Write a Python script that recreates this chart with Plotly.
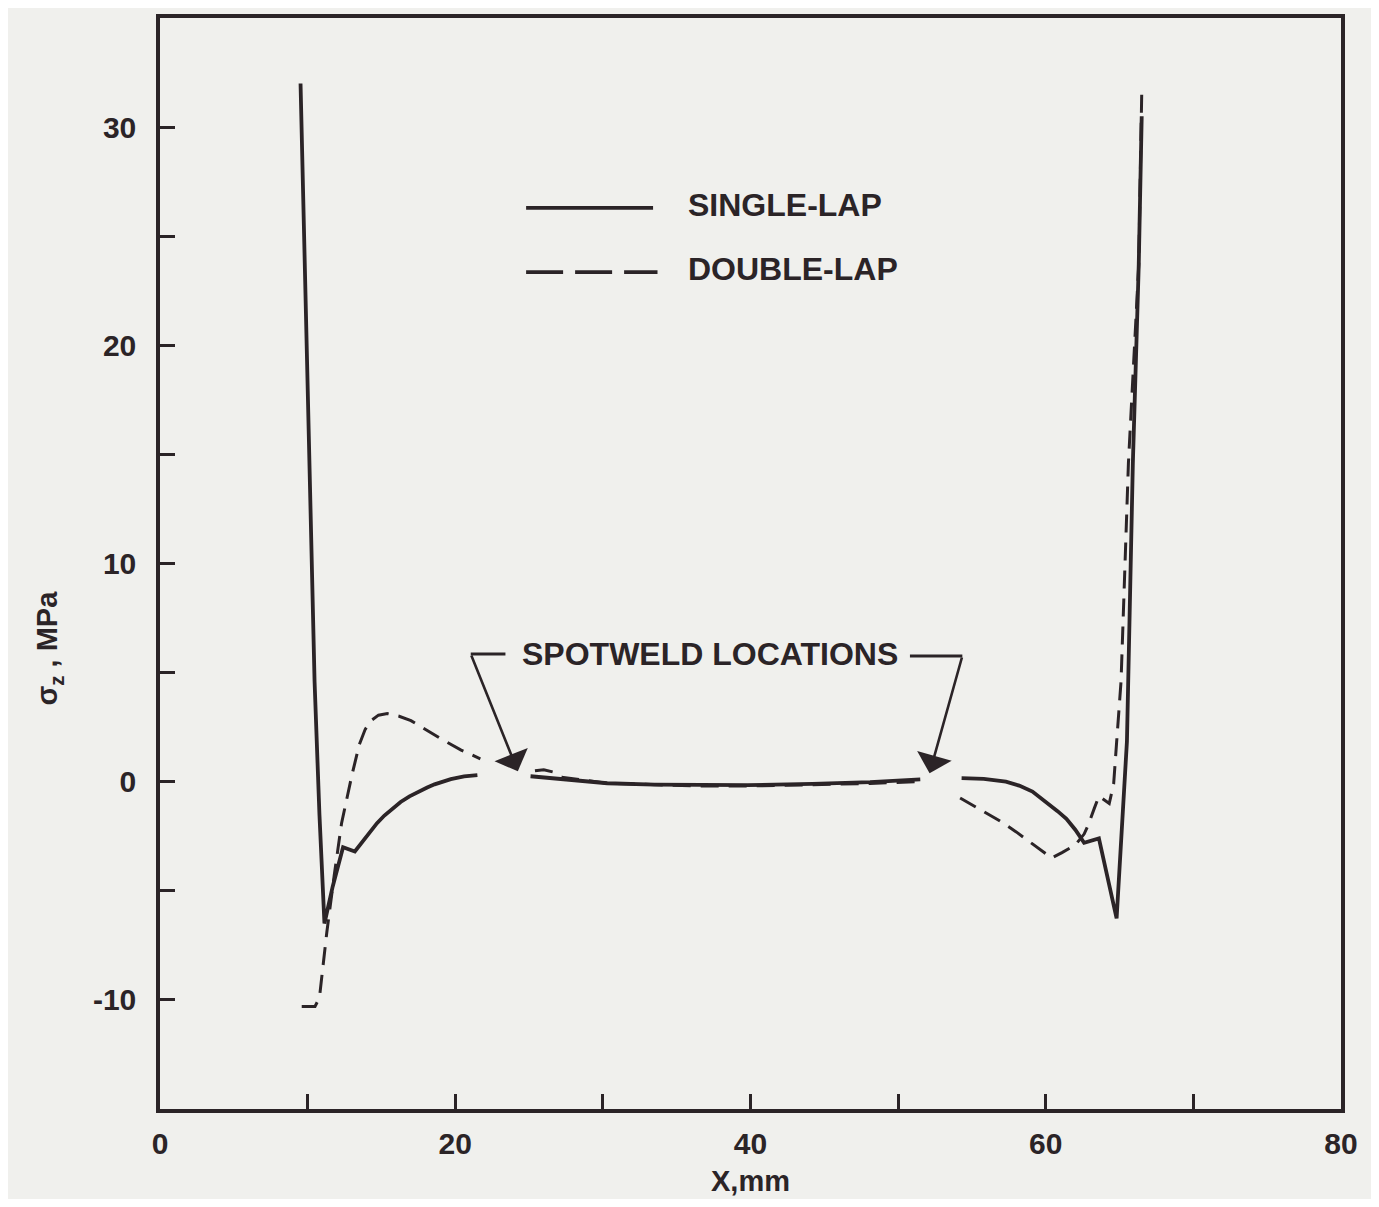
import plotly.graph_objects as go

# ---- data (X in mm, stress in MPa) ----
single_left_x = [9.52, 10.06, 10.47, 10.8, 11.14, 11.7, 12.4, 13.2, 13.7, 14.2, 14.7, 15.2, 15.8, 16.3,
                 16.9, 17.5, 18.1, 18.6, 19.2, 19.7, 20.6, 21.5]
single_left_y = [32.0, 16.0, 4.6, -1.5, -6.5, -4.8, -3.0, -3.2, -2.75, -2.3, -1.9, -1.55, -1.2, -0.93,
                 -0.67, -0.45, -0.27, -0.12, 0.02, 0.12, 0.24, 0.3]

single_mid_x = [25.1, 27.0, 30.3, 33.5, 36.6, 39.8, 44.2, 48.1, 51.5]
single_mid_y = [0.25, 0.12, -0.07, -0.13, -0.16, -0.16, -0.1, -0.02, 0.11]

single_right_x = [54.3, 55.8, 57.3, 58.2, 59.1, 59.7, 60.2, 60.8, 61.4, 62.0, 62.6, 63.6, 64.8,
                  65.5, 65.9, 66.3, 66.5]
single_right_y = [0.16, 0.13, 0.0, -0.18, -0.45, -0.75, -1.05, -1.35, -1.7, -2.2, -2.8, -2.6, -6.26,
                  1.85, 14.6, 23.7, 30.5]

double_left_x = [9.6, 10.5, 10.8, 11.3, 11.8, 12.3, 12.65, 13.0, 13.5, 13.9, 14.3, 14.8, 15.4, 16.2,
                 17.0, 18.1, 19.2, 20.4, 21.7]
double_left_y = [-10.3, -10.3, -9.9, -6.9, -4.3, -1.9, -0.8, 0.3, 1.7, 2.4, 2.8, 3.05, 3.12, 3.0,
                 2.8, 2.35, 1.9, 1.45, 1.05]

double_mid_x = [25.4, 26.0, 26.6, 27.2, 30.3, 33.5, 36.6, 39.8, 44.2, 48.1, 51.2]
double_mid_y = [0.5, 0.55, 0.45, 0.2, -0.07, -0.15, -0.2, -0.2, -0.15, -0.08, 0.0]

double_right_x = [54.2, 55.5, 56.9, 58.0, 59.1, 60.4, 61.1, 62.0, 62.6, 62.9, 63.3, 63.6, 64.3, 64.6,
                  64.8, 65.1, 65.6, 66.3, 66.5]
double_right_y = [-0.75, -1.25, -1.8, -2.3, -2.85, -3.5, -3.25, -2.9, -2.4, -1.95, -1.2, -0.66, -1.0,
                  -0.1, 1.8, 4.6, 14.6, 23.7, 31.5]

x_ticks = [0, 20, 40, 60, 80]
x_ticktext = ["0", "20", "40", "60", "80"]
y_ticks = [-10, 0, 10, 20, 30]
y_ticktext = ["-10", "0", "10", "20", "30"]

INK = "#2b2427"
BG = "#f0f0ed"
FONT = "Liberation Sans"

fig = go.Figure()

for xs, ys in [(single_left_x, single_left_y), (single_mid_x, single_mid_y), (single_right_x, single_right_y)]:
    fig.add_trace(go.Scatter(x=xs, y=ys, mode="lines", showlegend=False,
                             line=dict(color=INK, width=3.8)))
for xs, ys in [(double_left_x, double_left_y), (double_mid_x, double_mid_y), (double_right_x, double_right_y)]:
    fig.add_trace(go.Scatter(x=xs, y=ys, mode="lines", showlegend=False,
                             line=dict(color=INK, width=3, dash="18px,10px")))

# legend samples (manual)
fig.add_shape(type="line", x0=24.8, x1=33.4, y0=26.3, y1=26.3, xref="x", yref="y",
              line=dict(color=INK, width=3.8))
fig.add_shape(type="line", x0=24.8, x1=33.7, y0=23.35, y1=23.35, xref="x", yref="y",
              line=dict(color=INK, width=3.8, dash="37px,12px"))
fig.add_annotation(x=35.6, y=26.45, text="SINGLE-LAP", showarrow=False, xanchor="left",
                   yanchor="middle", font=dict(family=FONT, size=32, color=INK, weight="bold"))
fig.add_annotation(x=35.6, y=23.5, text="DOUBLE-LAP", showarrow=False, xanchor="left",
                   yanchor="middle", font=dict(family=FONT, size=32, color=INK, weight="bold"))

# spotweld callout
fig.add_annotation(x=37.27, y=5.85, text="SPOTWELD LOCATIONS", showarrow=False,
                   xanchor="center", yanchor="middle",
                   font=dict(family=FONT, size=32, color=INK, weight="bold"))
fig.add_shape(type="line", x0=21.05, x1=23.4, y0=5.85, y1=5.85, xref="x", yref="y",
              line=dict(color=INK, width=3))
fig.add_shape(type="line", x0=50.8, x1=54.35, y0=5.76, y1=5.76, xref="x", yref="y",
              line=dict(color=INK, width=3))
fig.add_annotation(x=24.24, y=0.48, ax=21.05, ay=5.85, axref="x", ayref="y", xref="x", yref="y",
                   text="", showarrow=True, arrowhead=1, arrowsize=2.3, arrowwidth=2.6,
                   arrowcolor=INK)
fig.add_annotation(x=52.13, y=0.39, ax=54.35, ay=5.76, axref="x", ayref="y", xref="x", yref="y",
                   text="", showarrow=True, arrowhead=1, arrowsize=2.3, arrowwidth=2.6,
                   arrowcolor=INK)

# axis titles
fig.add_annotation(x=0.5, y=-0.066, xref="paper", yref="paper", text="X,mm", showarrow=False,
                   xanchor="center", yanchor="middle",
                   font=dict(family=FONT, size=29, color=INK, weight="bold"))
fig.add_annotation(x=-0.094, y=0.423, xref="paper", yref="paper", text="σ<sub>z</sub> , MPa",
                   showarrow=False, textangle=-90, xanchor="center", yanchor="middle",
                   font=dict(family=FONT, size=29, color=INK, weight="bold"))

axis_common = dict(showline=True, linecolor=INK, linewidth=3.5, mirror=True,
                   ticks="inside", ticklen=15, tickwidth=3, tickcolor=INK,
                   showgrid=False, zeroline=False,
                   tickfont=dict(family=FONT, size=30, color=INK, weight="bold"))

fig.update_xaxes(range=[0, 80], tickvals=x_ticks, ticktext=x_ticktext,
                 minor=dict(dtick=10, ticks="inside", ticklen=15, tickwidth=3, tickcolor=INK,
                            showgrid=False),
                 ticklabelstandoff=5, **axis_common)
fig.update_yaxes(range=[-15, 35], tickvals=y_ticks, ticktext=y_ticktext,
                 minor=dict(dtick=5, ticks="inside", ticklen=15, tickwidth=3, tickcolor=INK,
                            showgrid=False),
                 ticklabelstandoff=14, **axis_common)

# page body has an 8px margin, so the figure is sized/offset to keep the plot area in place
fig.update_layout(width=1363, height=1191, margin=dict(l=152, r=30, t=6, b=90),
                  paper_bgcolor=BG, plot_bgcolor=BG, showlegend=False)

fig.write_html("out.html")
